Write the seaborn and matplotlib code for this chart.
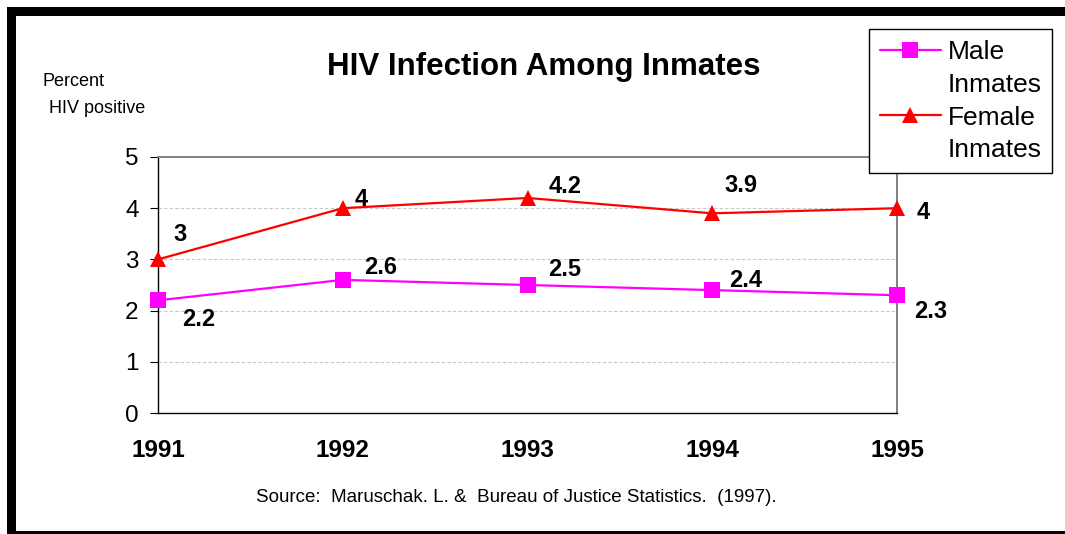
import numpy as np
import pandas as pd
import seaborn as sns
import matplotlib.pyplot as plt
from matplotlib.lines import Line2D
from matplotlib.patches import Rectangle

sns.set_style("white")
plt.rcParams["font.family"] = ["Liberation Sans", "DejaVu Sans"]
plt.rcParams["text.color"] = "black"
plt.rcParams["xtick.color"] = "black"
plt.rcParams["ytick.color"] = "black"

years = [1991, 1992, 1993, 1994, 1995]
male = [2.2, 2.6, 2.5, 2.4, 2.3]
female = [3.0, 4.0, 4.2, 3.9, 4.0]
male_lbl = ["2.2", "2.6", "2.5", "2.4", "2.3"]
female_lbl = ["3", "4", "4.2", "3.9", "4"]

# label offsets (points) so they sit like in the original
male_off = [(29, -14), (27, 9), (27, 11), (24, 7), (24, -12)]
female_off = [(16, 18), (13, 6), (27, 8), (21, 20), (19, -3)]

df = pd.DataFrame({"year": years, "Male": male, "Female": female})

fig, ax = plt.subplots(figsize=(10.65, 5.34), dpi=100)
W, H = 1065, 534
ax.set_position([158 / W, 1 - 413 / H, (897 - 158) / W, (413 - 157) / H])

sns.lineplot(data=df, x="year", y="Female", ax=ax, color="#ff0000", lw=1.6,
             marker="^", markersize=12, markeredgewidth=0, clip_on=False, zorder=5)
sns.lineplot(data=df, x="year", y="Male", ax=ax, color="#ff00ff", lw=1.6,
             marker="s", markersize=11, markeredgewidth=0, clip_on=False, zorder=5)

for x, y, t, o in zip(years, female, female_lbl, female_off):
    ax.annotate(t, (x, y), xytext=o, textcoords="offset points", ha="center",
                va="center", fontsize=17, fontweight="bold")
for x, y, t, o in zip(years, male, male_lbl, male_off):
    ax.annotate(t, (x, y), xytext=o, textcoords="offset points", ha="center",
                va="center", fontsize=17, fontweight="bold")

ax.set_xlim(1991, 1995)
ax.set_ylim(0, 5)
ax.set_xticks(years)
ax.set_xticklabels([str(y) for y in years], fontsize=17.5, fontweight="bold")
ax.set_yticks(range(0, 6))
ax.set_yticklabels([str(i) for i in range(0, 6)], fontsize=17.5)
ax.set_xlabel("")
ax.set_ylabel("")
ax.tick_params(axis="x", direction="inout", length=12, width=0.8, pad=13, color="black")
ax.tick_params(axis="y", direction="out", length=6, width=0.8, pad=8, color="black", left=True)

for y in [1, 2, 3, 4]:
    ax.axhline(y, color="#c8c8c8", lw=0.8, ls=(0, (3, 2)), zorder=1)

ax.spines["left"].set_color("black")
ax.spines["bottom"].set_color("black")
ax.spines["left"].set_linewidth(1)
ax.spines["bottom"].set_linewidth(1)
ax.spines["top"].set_color("#808080")
ax.spines["right"].set_color("#808080")
ax.spines["top"].set_linewidth(1.4)
ax.spines["right"].set_linewidth(1.4)

fig.text(543.5 / W, 1 - 75 / H, "HIV Infection Among Inmates", ha="center",
         va="baseline", fontsize=22.5, fontweight="bold")
fig.text(43 / W, 1 - 82 / H, "Percent", ha="left", va="center", fontsize=13)
fig.text(49 / W, 1 - 109 / H, "HIV positive", ha="left", va="center", fontsize=13)
fig.text(516 / W, 1 - 498 / H,
         "Source:  Maruschak. L. &  Bureau of Justice Statistics.  (1997).",
         ha="center", va="center", fontsize=13.5)

# legend: first line of each label carries the handle, second line has none
blank = Line2D([], [], color="none")
handles = [Line2D([], [], color="#ff00ff", lw=1.6, marker="s", markersize=11, markeredgewidth=0),
           blank,
           Line2D([], [], color="#ff0000", lw=1.6, marker="^", markersize=12, markeredgewidth=0),
           blank]
leg = fig.legend(handles, ["Male", "Inmates", "Female", "Inmates"], loc="upper left",
                 bbox_to_anchor=(869 / W, 1 - 29 / H), borderaxespad=0, fontsize=19,
                 frameon=True, fancybox=False, edgecolor="black", framealpha=1,
                 handlelength=2.3, handletextpad=0.25, labelspacing=0.33,
                 borderpad=0.42)
leg.get_frame().set_linewidth(1)

# thick black frame around the picture
fig.add_artist(Rectangle((7 / W, 1 - 16 / H), 1, 9 / H, transform=fig.transFigure,
                         color="black", lw=0))
fig.add_artist(Rectangle((7 / W, 0), 9 / W, 1 - 7 / H, transform=fig.transFigure,
                         color="black", lw=0))
fig.add_artist(Rectangle((7 / W, 0), 1, 3 / H, transform=fig.transFigure,
                         color="black", lw=0))

fig.savefig("out.png", dpi=100)
